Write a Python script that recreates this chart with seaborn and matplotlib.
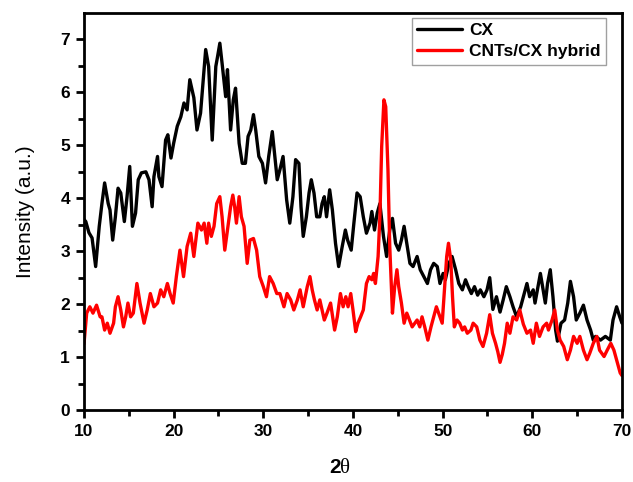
import numpy as np
import pandas as pd
import matplotlib
matplotlib.use("Agg")
import matplotlib.pyplot as plt
import seaborn as sns

# XRD pattern of carbon xerogel (CX) and CNTs/CX hybrid
cx_two_theta = [10.0, 10.2, 10.55, 10.9, 11.3, 11.7, 12.0, 12.3, 12.7, 12.9, 13.2, 13.5, 13.8, 14.1,
                14.5, 14.8, 15.1, 15.4, 15.75, 16.05, 16.4, 16.9, 17.25, 17.6, 17.8, 18.2, 18.35,
                18.7, 19.1, 19.35, 19.7, 20.0, 20.4, 20.8, 21.15, 21.5, 21.8, 22.25, 22.6, 23.0,
                23.57, 23.9, 24.3, 24.7, 24.9, 25.15, 25.4, 25.8, 26.0, 26.35, 26.65, 26.9, 27.3,
                27.65, 28.0, 28.3, 28.6, 28.9, 29.15, 29.5, 29.9, 30.25, 30.6, 31.0, 31.25, 31.55,
                31.85, 32.2, 32.6, 32.95, 33.3, 33.6, 33.97, 34.2, 34.45, 34.8, 35.1, 35.35, 35.65,
                35.95, 36.3, 36.55, 36.8, 37.05, 37.4, 37.7, 38.05, 38.4, 38.8, 39.15, 39.4, 39.8,
                40.1, 40.45, 40.8, 41.15, 41.5, 41.9, 42.1, 42.4, 42.7, 43.0, 43.4, 43.75, 44.1,
                44.4, 44.75, 45.1, 45.4, 45.7, 46.0, 46.35, 46.7, 47.15, 47.5, 47.9, 48.3, 48.65,
                49.0, 49.4, 49.7, 50.05, 50.3, 50.7, 51.05, 51.45, 51.8, 52.2, 52.55, 52.85, 53.2,
                53.55, 53.9, 54.2, 54.6, 54.95, 55.25, 55.6, 56.0, 56.4, 56.75, 57.1, 57.5, 57.85,
                58.25, 58.7, 59.1, 59.4, 59.7, 60.1, 60.3, 60.9, 61.2, 61.45, 61.7, 62.0, 62.3,
                62.6, 62.8, 63.2, 63.6, 63.95, 64.25, 64.6, 64.9, 65.3, 65.7, 66.1, 66.5, 66.8,
                67.05, 67.6, 68.15, 68.7, 69.0, 69.4, 69.75, 70.0]
cx_intensity = [3.6, 3.56, 3.35, 3.25, 2.71, 3.47, 3.9, 4.29, 3.9, 3.78, 3.21, 3.65, 4.19, 4.1,
                3.56, 4.03, 4.6, 3.47, 3.72, 4.35, 4.48, 4.5, 4.35, 3.84, 4.41, 4.79, 4.41,
                4.22, 5.1, 5.2, 4.76, 5.04, 5.36, 5.54, 5.8, 5.67, 6.24, 5.9, 5.29, 5.61,
                6.81, 6.49, 5.1, 6.49, 6.68, 6.93, 6.55, 5.92, 6.43, 5.29, 5.86, 6.08, 5.04,
                4.66, 4.66, 5.17, 5.29, 5.58, 5.29, 4.79, 4.66, 4.29, 4.79, 5.26, 4.85, 4.35,
                4.54, 4.79, 3.97, 3.53, 4.03, 4.73, 4.66, 3.84, 3.28, 3.65, 4.1, 4.35, 4.1,
                3.65, 3.65, 3.9, 4.03, 3.65, 4.16, 3.78, 3.15, 2.71, 3.09, 3.4, 3.21, 3.02,
                3.53, 4.1, 4.03, 3.65, 3.34, 3.53, 3.75, 3.4, 3.72, 3.9, 3.28, 2.9, 3.4,
                3.62, 3.15, 3.02, 3.21, 3.47, 3.15, 2.77, 2.71, 2.9, 2.65, 2.52, 2.39, 2.65,
                2.77, 2.71, 2.39, 2.58, 2.46, 2.77, 2.9, 2.65, 2.39, 2.27, 2.46, 2.33, 2.2,
                2.33, 2.17, 2.27, 2.14, 2.27, 2.5, 1.9, 2.14, 1.85, 2.08, 2.33, 2.14, 1.95,
                1.76, 1.95, 2.2, 2.39, 2.14, 2.27, 2.02, 2.58, 2.27, 2.02, 2.39, 2.65, 2.14,
                1.51, 1.3, 1.64, 1.7, 2.02, 2.43, 2.14, 1.7, 1.83, 1.98, 1.7, 1.51, 1.32,
                1.39, 1.32, 1.39, 1.32, 1.7, 1.95, 1.76, 1.64]

hyb_two_theta = [10.0, 10.3, 10.65, 11.0, 11.4, 11.8, 12.0, 12.3, 12.6, 12.9, 13.3, 13.5, 13.8,
                 14.1, 14.4, 14.65, 14.9, 15.2, 15.5, 15.9, 16.25, 16.7, 17.05, 17.4, 17.8, 18.2,
                 18.55, 18.9, 19.3, 19.6, 19.95, 20.3, 20.7, 21.1, 21.5, 21.9, 22.25, 22.7, 23.1,
                 23.4, 23.7, 23.9, 24.2, 24.5, 24.8, 25.15, 25.4, 25.7, 26.05, 26.35, 26.6, 26.8,
                 27.0, 27.3, 27.55, 27.85, 28.2, 28.5, 28.9, 29.25, 29.6, 30.0, 30.35, 30.7, 31.1,
                 31.5, 31.85, 32.3, 32.65, 33.05, 33.4, 33.8, 34.1, 34.45, 34.9, 35.2, 35.45, 35.7,
                 36.0, 36.3, 36.55, 36.8, 37.1, 37.5, 37.95, 38.25, 38.6, 38.9, 39.2, 39.45, 39.75,
                 40.0, 40.3, 40.55, 40.85, 41.15, 41.5, 41.8, 42.1, 42.3, 42.5, 42.8, 43.0, 43.2,
                 43.45, 43.65, 43.9, 44.1, 44.4, 44.65, 44.9, 45.1, 45.4, 45.7, 46.0, 46.3, 46.6,
                 47.15, 47.45, 47.7, 48.0, 48.35, 48.7, 49.0, 49.3, 49.7, 49.95, 50.2, 50.45,
                 50.65, 50.9, 51.1, 51.3, 51.6, 51.9, 52.2, 52.45, 52.75, 53.15, 53.4, 53.8,
                 54.15, 54.5, 54.9, 55.25, 55.55, 55.9, 56.15, 56.4, 56.65, 56.9, 57.2, 57.5,
                 57.85, 58.25, 58.6, 59.0, 59.4, 59.8, 60.1, 60.45, 60.8, 61.2, 61.6, 61.8, 62.2,
                 62.5, 62.8, 63.1, 63.5, 63.9, 64.25, 64.6, 65.0, 65.3, 65.7, 66.1, 66.4, 66.8,
                 67.2, 67.5, 68.0, 68.35, 68.75, 69.1, 69.5, 69.8, 70.0]
hyb_intensity = [1.25, 1.83, 1.95, 1.83, 1.98, 1.76, 1.76, 1.51, 1.64, 1.45, 1.64, 1.95, 2.14,
                 1.89, 1.57, 1.76, 2.02, 1.76, 1.83, 2.39, 2.02, 1.64, 1.89, 2.2, 1.95, 2.02,
                 2.27, 2.14, 2.39, 2.2, 2.02, 2.52, 3.02, 2.52, 3.09, 3.34, 2.9, 3.53, 3.4,
                 3.53, 3.15, 3.53, 3.28, 3.47, 3.9, 4.03, 3.65, 3.02, 3.47, 3.84, 4.06, 3.84,
                 3.53, 4.03, 3.65, 3.47, 2.77, 3.21, 3.24, 3.02, 2.52, 2.33, 2.14, 2.52, 2.39,
                 2.2, 2.2, 1.95, 2.2, 2.08, 1.89, 2.08, 2.27, 1.95, 2.33, 2.52, 2.27, 2.08,
                 1.89, 2.08, 1.89, 1.7, 1.83, 2.02, 1.51, 1.76, 2.2, 1.95, 2.14, 1.95, 2.2,
                 1.89, 1.48, 1.64, 1.76, 1.89, 2.39, 2.52, 2.46, 2.58, 2.39, 2.9, 3.65, 4.98,
                 5.86, 5.73, 4.54, 3.09, 1.83, 2.33, 2.65, 2.33, 2.02, 1.64, 1.83, 1.7, 1.57,
                 1.7, 1.57, 1.76, 1.57, 1.32, 1.57, 1.76, 1.95, 1.76, 1.64, 2.27, 2.9,
                 3.15, 2.84, 2.14, 1.57, 1.7, 1.64, 1.51, 1.57, 1.45, 1.51, 1.64, 1.57,
                 1.32, 1.2, 1.45, 1.8, 1.45, 1.26, 1.1, 0.9, 1.05, 1.26, 1.64, 1.45,
                 1.76, 1.7, 1.89, 1.62, 1.45, 1.51, 1.26, 1.64, 1.39, 1.57, 1.64, 1.51, 1.7,
                 1.89, 1.51, 1.32, 1.2, 0.95, 1.13, 1.39, 1.26, 1.39, 1.13, 0.95, 1.07, 1.26,
                 1.39, 1.13, 1.01, 1.13, 1.26, 1.13, 0.88, 0.7, 0.65]

series_names = ["CX", "CNTs/CX hybrid"]
series_colors = ["#000000", "#ff0000"]

df = pd.concat([
    pd.DataFrame({"two_theta": cx_two_theta, "intensity": cx_intensity, "sample": series_names[0]}),
    pd.DataFrame({"two_theta": hyb_two_theta, "intensity": hyb_intensity, "sample": series_names[1]}),
], ignore_index=True)

sns.set_style("ticks")
plt.rcParams["font.family"] = ["Liberation Sans", "DejaVu Sans"]
plt.rcParams["text.color"] = "black"
plt.rcParams["axes.labelcolor"] = "black"
plt.rcParams["xtick.color"] = "black"
plt.rcParams["ytick.color"] = "black"

fig = plt.figure(figsize=(6.33, 4.82), dpi=100)
ax = fig.add_axes([0.1327, 0.1494, 0.8499, 0.8236])

sns.lineplot(data=df, x="two_theta", y="intensity", hue="sample",
             palette=dict(zip(series_names, series_colors)), sort=False,
             estimator=None, linewidth=2.4, ax=ax)

ax.set_xlim(10, 70)
ax.set_ylim(0, 7.5)
ax.set_xticks(np.arange(10, 71, 10))
ax.set_xticks(np.arange(15, 70, 10), minor=True)
ax.set_yticks(np.arange(0, 8, 1))
ax.set_yticks(np.arange(0.5, 7.5, 1), minor=True)

for side in ["left", "bottom", "right", "top"]:
    ax.spines[side].set_visible(True)
    ax.spines[side].set_linewidth(2.0)
    ax.spines[side].set_color("black")

ax.tick_params(axis="both", which="major", direction="out", length=6, width=2,
               labelsize=12.5, pad=4, top=False, right=False, colors="black")
ax.tick_params(axis="both", which="minor", direction="out", length=4, width=2,
               top=False, right=False, colors="black")
for lbl in ax.get_xticklabels() + ax.get_yticklabels():
    lbl.set_fontweight("bold")

ax.set_xlabel("")
ax.set_ylabel("Intensity (a.u.)", fontsize=15, labelpad=18, color="black")

# x-axis title: bold "2" followed by an upright serif theta
x_split = 340.5 / 633
fig.text(x_split, 0.018, "2", ha="right", va="baseline", fontsize=15,
         fontweight="bold", color="black")
fig.text(x_split, 0.018, "θ", ha="left", va="baseline", fontsize=15,
         family=["Liberation Serif", "DejaVu Serif"], color="black")

leg = ax.legend(loc="upper right", bbox_to_anchor=(0.97, 0.988), frameon=True,
                fancybox=False, edgecolor="#888888", borderpad=0.3, labelspacing=0.35,
                handlelength=2.6, handletextpad=0.4, borderaxespad=0.0,
                prop={"weight": "bold", "size": 12.5})
leg.get_frame().set_linewidth(1.0)
for line in leg.get_lines():
    line.set_linewidth(2.4)

fig.savefig("out.png", dpi=100)
